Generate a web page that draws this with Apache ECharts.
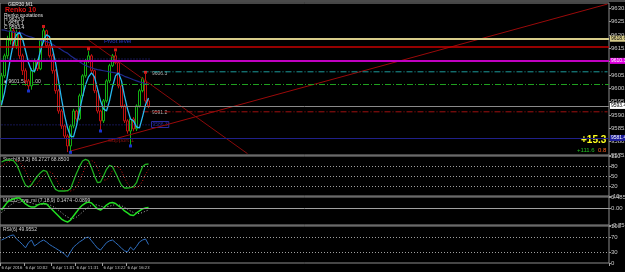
<!DOCTYPE html>
<html>
<head>
<meta charset="utf-8">
<script src="https://cdn.jsdelivr.net/npm/echarts@6/dist/echarts.min.js"></script>
<style>
  html, body { margin: 0; background: #000; }
  #chart { width: 625px; height: 272px; }
</style>
</head>
<body>
<div id="chart"></div>
<script>
// bars: [open, close, low, high]
const bars = [
  [9595.3, 9604.7, 9593.4, 9605.8], [9604.7, 9612.2, 9603.9, 9613.0], [9612.2, 9618.6, 9611.0, 9619.7],
  [9617.9, 9621.6, 9616.4, 9623.0], [9621.6, 9616.0, 9615.0, 9622.4], [9616.0, 9620.9, 9614.8, 9622.0],
  [9620.9, 9612.2, 9611.0, 9621.6], [9612.2, 9606.6, 9605.0, 9613.0], [9606.6, 9602.8, 9601.0, 9607.5],
  [9602.8, 9600.9, 9599.4, 9603.5], [9600.9, 9606.6, 9599.5, 9607.5], [9606.6, 9610.3, 9605.8, 9611.2],
  [9610.3, 9607.3, 9606.5, 9611.0], [9607.3, 9617.9, 9606.8, 9618.5], [9617.9, 9621.6, 9617.0, 9622.6],
  [9621.6, 9616.0, 9615.2, 9622.0], [9616.0, 9612.2, 9611.5, 9616.8], [9612.2, 9606.6, 9605.5, 9613.0],
  [9606.6, 9599.1, 9598.0, 9607.2], [9599.1, 9591.5, 9590.5, 9599.8], [9591.5, 9585.9, 9584.8, 9592.2],
  [9585.9, 9582.1, 9581.0, 9586.5], [9582.1, 9578.4, 9576.1, 9582.8], [9578.4, 9585.9, 9576.1, 9586.5],
  [9585.9, 9591.5, 9585.0, 9592.3], [9591.5, 9588.5, 9587.5, 9592.0], [9588.5, 9597.2, 9588.0, 9598.0],
  [9597.2, 9604.7, 9596.5, 9605.3], [9604.7, 9610.3, 9604.0, 9611.0], [9610.3, 9612.2, 9609.5, 9614.1],
  [9612.2, 9606.6, 9605.8, 9612.8], [9606.6, 9599.1, 9598.2, 9607.0], [9599.1, 9591.5, 9590.6, 9599.8],
  [9591.5, 9587.8, 9584.4, 9592.0], [9587.8, 9595.3, 9587.0, 9596.0], [9595.3, 9602.8, 9594.6, 9603.4],
  [9602.8, 9608.5, 9602.0, 9609.2], [9608.5, 9612.2, 9608.0, 9612.9], [9612.2, 9609.6, 9609.0, 9613.7],
  [9609.6, 9600.9, 9600.0, 9610.2], [9600.9, 9593.4, 9592.5, 9601.5], [9593.4, 9587.8, 9587.0, 9594.0],
  [9587.8, 9584.0, 9583.0, 9588.4], [9584.0, 9588.5, 9578.8, 9589.0], [9588.5, 9584.8, 9583.9, 9589.2],
  [9584.8, 9593.4, 9584.0, 9594.0], [9593.4, 9599.1, 9592.8, 9599.8], [9599.1, 9603.6, 9598.5, 9604.2],
  [9602.8, 9595.3, 9594.6, 9605.4], [9595.3, 9593.4, 9592.6, 9596.0]
];

const smoothLine = [
  9593.8, 9598.3, 9604.7, 9611.5, 9617.1, 9620.1, 9620.9, 9618.6, 9614.1, 9609.6,
  9606.6, 9606.4, 9609.6, 9614.1, 9617.9, 9620.1, 9619.4, 9614.8, 9609.6, 9602.8,
  9596.1, 9590.0, 9585.2, 9582.1, 9581.8, 9585.9, 9591.5, 9596.8, 9601.3, 9604.3,
  9605.8, 9604.3, 9599.8, 9595.3, 9592.3, 9591.5, 9595.3, 9600.6, 9604.7, 9605.8,
  9602.8, 9597.2, 9592.3, 9588.5, 9587.8, 9585.5, 9585.2, 9589.3, 9593.8, 9596.4
];

const slowMa = [
  9621.9, 9621.8, 9621.5, 9621.3, 9621.1, 9621.0, 9620.9, 9620.6, 9619.9, 9619.5,
  9619.2, 9618.8, 9618.4, 9618.0, 9617.7, 9617.5, 9617.1, 9616.5, 9615.8, 9615.2,
  9614.5, 9613.7, 9613.2, 9612.2, 9611.5, 9610.7, 9610.0, 9609.2, 9608.6, 9608.1,
  9607.7, 9607.3, 9607.0, 9606.8, 9606.6, 9606.4, 9606.2, 9606.0, 9605.8, 9605.5,
  9605.1, 9604.5, 9604.1, 9603.7, 9603.2, 9602.8, 9602.4, 9602.1, 9601.7, 9601.5
];

const fractalHighs = [[14, 9623.2], [29, 9614.8], [38, 9614.4], [48, 9606.0]];
const fractalLows = [[9, 9599.0], [23, 9576.0], [33, 9584.0], [43, 9578.4]];

const stochMain = [
  92, 96, 98, 98, 96, 85, 65, 42, 22, 17, 24, 38, 50, 60, 67, 64, 45, 26, 10, 5,
  5, 5, 6, 12, 35, 58, 78, 95, 100, 96, 75, 50, 30, 32, 50, 70, 82, 78, 60, 40,
  22, 14, 14, 15, 18, 30, 55, 78, 85, 86
];
const stochSignal = [
  80, 86, 92, 95, 97, 96, 92, 82, 65, 45, 28, 22, 28, 40, 52, 60, 63, 58, 45, 28,
  14, 8, 5, 5, 8, 18, 35, 57, 77, 91, 97, 91, 75, 52, 38, 38, 50, 67, 78, 77,
  65, 45, 27, 18, 15, 15, 21, 35, 55, 69
];

const macdMain = [
  -0.09, 0.09, 0.26, 0.35, 0.40, 0.44, 0.44, 0.31, 0.18, 0.09,
  0.04, 0.04, 0.13, 0.18, 0.20, 0.18, 0.04, -0.09, -0.22, -0.35,
  -0.49, -0.57, -0.62, -0.53, -0.35, -0.18, 0.00, 0.13, 0.22, 0.26,
  0.22, 0.09, -0.04, -0.09, 0.00, 0.13, 0.22, 0.24, 0.20, 0.09,
  0.00, -0.13, -0.22, -0.31, -0.33, -0.22, -0.13, -0.04, 0.00, 0.02
];
const macdSignal = [
  -0.20, -0.10, 0.02, 0.13, 0.22, 0.30, 0.35, 0.37, 0.34, 0.28,
  0.22, 0.17, 0.15, 0.15, 0.16, 0.17, 0.14, 0.08, 0.00, -0.10,
  -0.20, -0.31, -0.40, -0.46, -0.46, -0.40, -0.30, -0.18, -0.06, 0.04,
  0.12, 0.15, 0.13, 0.08, 0.05, 0.05, 0.08, 0.12, 0.15, 0.14,
  0.10, 0.03, -0.05, -0.13, -0.20, -0.24, -0.24, -0.20, -0.14, -0.09
];

const rsi = [
  62, 66, 70, 74, 76, 65, 58, 50, 41, 55, 62, 46, 52, 58, 62, 57, 50, 45, 40, 35,
  30, 24, 16, 30, 43, 50, 57, 62, 68, 70, 60, 50, 40, 35, 45, 55, 60, 62, 55, 48,
  40, 33, 30, 43, 35, 45, 57, 62, 65, 50
];

const timeLabels = ['6 Apr 2016', '6 Apr 10:02', '6 Apr 11:01', '6 Apr 11:31', '6 Apr 13:22', '6 Apr 16:23'];
const timeIdx = [0, 8, 17, 25, 34, 42];

// horizontal levels across the whole chart
const fullLevels = [9618.6, 9615.6, 9610.3, 9601.7, 9593.4, 9581.4];
// levels that start somewhere in the chart: [startIdx, price]
const cyanLevel = [47, 9606.2];
const redDashLevel = [47, 9591.2];
const pivotDots = [[0, 9611.0], [0, 9586.3]];
// trend lines: [idx, price] pairs
const supportLine = [[23, 9576.5], [202, 9631.6]];
const fallLine = [[29, 9618.1], [82, 9575.5]];

const slots = 203;
const cats = Array.from({ length: slots }, (_, i) => {
  const k = timeIdx.indexOf(i);
  return k >= 0 ? timeLabels[k] : '';
});

function slopePieces(vals, up, down, turn) {
  const out = [];
  for (let i = 0; i < vals.length - 1; i++) {
    const rising = vals[i + 1] >= vals[i];
    const prevRising = i > 0 ? vals[i] >= vals[i - 1] : rising;
    const color = turn && rising !== prevRising ? turn : (rising ? up : down);
    const p = { gte: i, color };
    if (i === vals.length - 2) p.lte = i + 1; else p.lt = i + 1;
    out.push(p);
  }
  return out;
}

const FONT = 'Liberation Sans';
const NARROW = '"Liberation Sans Narrow", "DejaVu Sans Condensed", "Liberation Sans"';
const axisTxt = { color: '#c8c8c8', fontSize: 6, fontFamily: FONT };
const levelStyles = [
  { color: '#d8cd8a', width: 2, box: '#d8cd8a', txt: '#000' },
  { color: '#c80000', width: 1.5, box: null },
  { color: '#c000c0', width: 2, box: '#e000e0', txt: '#fff' },
  { color: '#1fa01f', width: 1, type: [6, 2, 1, 2], box: null },
  { color: '#8a8a8a', width: 1, box: '#ffffff', txt: '#000' },
  { color: '#20208a', width: 1.2, box: '#1c1c9c', txt: '#fff' }
];

const chart = echarts.init(document.getElementById('chart'));

const gridBase = { left: 0, right: 16, show: true, borderColor: '#8c8c8c', borderWidth: 1, outerBoundsMode: 'none' };
const xBase = (gi) => ({
  type: 'category', gridIndex: gi, data: cats, boundaryGap: true,
  axisLine: { show: false }, axisTick: { show: false }, axisLabel: { show: false }, splitLine: { show: false }
});
const yBase = (gi) => ({
  type: 'value', gridIndex: gi, position: 'right', scale: true,
  axisLine: { show: false },
  axisTick: { show: true, length: 2, inside: false, lineStyle: { color: '#9a9a9a' } },
  axisLabel: Object.assign({ margin: 2 }, axisTxt),
  splitLine: { show: false }
});

const levelMarks = fullLevels.map((v, i) => {
  const s = levelStyles[i];
  return {
    yAxis: v,
    lineStyle: { color: s.color, width: s.width, type: s.type || 'solid' },
    label: s.box ? {
      show: true, position: 'end', distance: 1, formatter: v.toFixed(1),
      backgroundColor: s.box, color: s.txt, fontSize: 5, fontFamily: FONT, padding: [1, 1, 0, 1]
    } : { show: false }
  };
});

const lineSeries = (name, data, color, width, type, xi, yi, z) => ({
  name, type: 'line', xAxisIndex: xi, yAxisIndex: yi, data, showSymbol: false, symbol: 'none',
  lineStyle: { color, width, type: type || 'solid' }, silent: true, animation: false, z: z || 3
});

const dotted = { color: '#a0a0a0', width: 1, type: [1, 2] };
const showTime = (i) => timeIdx.includes(i);

const option = {
  backgroundColor: '#000',
  animation: false,
  grid: [
    Object.assign({ top: 3, height: 152 }, gridBase),
    Object.assign({ top: 156, height: 40 }, gridBase),
    Object.assign({ top: 197, height: 28 }, gridBase),
    Object.assign({ top: 226, height: 37 }, gridBase)
  ],
  xAxis: [
    xBase(0), xBase(1), xBase(2),
    Object.assign(xBase(3), {
      axisLine: { show: false },
      axisTick: { show: true, length: 3, interval: showTime, lineStyle: { color: '#a0a0a0' } },
      axisLabel: {
        show: true, interval: 0, align: 'left', margin: 3, hideOverlap: false,
        color: '#c8c8c8', fontSize: 4.2, fontFamily: NARROW
      }
    })
  ],
  yAxis: [
    Object.assign(yBase(0), { scale: false, min: 9575, max: 9632, interval: 5,
      axisLabel: Object.assign({ margin: 2, showMaxLabel: false, formatter: (v) => v.toFixed(1) }, axisTxt) }),
    Object.assign(yBase(1), { scale: false, min: -10, max: 110,
      axisLabel: Object.assign({ margin: 2, customValues: [-10, 20, 50, 80, 110] }, axisTxt),
      axisTick: { show: true, length: 2, customValues: [-10, 20, 50, 80, 110], lineStyle: { color: '#9a9a9a' } } }),
    Object.assign(yBase(2), { scale: false, min: -0.75, max: 0.485,
      axisLabel: Object.assign({ margin: 2, customValues: [0.485, 0, -0.75],
        formatter: (v) => (v === 0 ? '0.00' : v.toFixed(4)) }, axisTxt),
      axisTick: { show: true, length: 2, customValues: [0.485, 0, -0.75], lineStyle: { color: '#9a9a9a' } } }),
    Object.assign(yBase(3), { scale: false, min: 0, max: 100,
      axisLabel: Object.assign({ margin: 2, customValues: [0, 30, 70, 100] }, axisTxt),
      axisTick: { show: true, length: 2, customValues: [0, 30, 70, 100], lineStyle: { color: '#9a9a9a' } } })
  ],
  visualMap: [
    { show: false, type: 'piecewise', seriesIndex: 2, dimension: 0,
      pieces: slopePieces(smoothLine, '#29b8f0', '#f08a6a', '#f4f4f4') },
    { show: false, type: 'piecewise', seriesIndex: 13, dimension: 0,
      pieces: slopePieces(macdMain, '#22e022', '#ff2020', null) }
  ],
  series: [
    {
      name: 'GER30', type: 'candlestick', xAxisIndex: 0, yAxisIndex: 0, data: bars, barWidth: 2,
      itemStyle: { color: '#000', color0: '#000', borderColor: '#12b012', borderColor0: '#c01010', borderWidth: 1 },
      silent: true, z: 2,
      markLine: { silent: true, symbol: ['none', 'none'], animation: false, data: levelMarks }
    },
    lineSeries('slowMa', slowMa, '#1e2a8c', 1.2, null, 0, 0, 3),
    lineSeries('smooth', smoothLine, '#29b8f0', 1.3, null, 0, 0, 4),
    lineSeries('support', supportLine, '#9a0a0a', 1, null, 0, 0, 3),
    lineSeries('fall', fallLine, '#8a0a0a', 1, null, 0, 0, 3),
    lineSeries('cyanLevel', [cyanLevel, [slots - 1, cyanLevel[1]]], '#1c9a9a', 1, [6, 2, 1, 2], 0, 0, 3),
    lineSeries('redDash', [redDashLevel, [slots - 1, redDashLevel[1]]], '#a01010', 1, [6, 2, 1, 2], 0, 0, 3),
    lineSeries('pivot1', [pivotDots[0], [50, pivotDots[0][1]]], '#2a2aa0', 1, [1, 2], 0, 0, 3),
    lineSeries('pivot2', [pivotDots[1], [50, pivotDots[1][1]]], '#2a2aa0', 1, [1, 2], 0, 0, 3),
    { name: 'fracHi', type: 'scatter', xAxisIndex: 0, yAxisIndex: 0, data: fractalHighs,
      symbol: 'rect', symbolSize: 3, itemStyle: { color: '#ff2020' }, silent: true, z: 5 },
    { name: 'fracLo', type: 'scatter', xAxisIndex: 0, yAxisIndex: 0, data: fractalLows,
      symbol: 'rect', symbolSize: 3, itemStyle: { color: '#2040ff' }, silent: true, z: 5 },
    Object.assign(lineSeries('stoch', stochMain, '#20b020', 1.3, null, 1, 1, 4), {
      markLine: { silent: true, symbol: ['none', 'none'], label: { show: false }, lineStyle: dotted,
        data: [{ yAxis: 80 }, { yAxis: 50 }, { yAxis: 20 }] }
    }),
    lineSeries('stochSig', stochSignal, '#d01010', 1, [1, 2], 1, 1, 3),
    Object.assign(lineSeries('macd', macdMain, '#22e022', 1.5, null, 2, 2, 4), {
      markLine: { silent: true, symbol: ['none', 'none'], label: { show: false },
        lineStyle: { color: '#a0a0a0', width: 1, type: 'solid' }, data: [{ yAxis: 0 }] }
    }),
    lineSeries('macdSig', macdSignal, '#b0b0b0', 1, [1, 2], 2, 2, 3),
    Object.assign(lineSeries('rsi', rsi, '#2f6fc0', 1, null, 3, 3, 4), {
      markLine: { silent: true, symbol: ['none', 'none'], label: { show: false }, lineStyle: dotted,
        data: [{ yAxis: 70 }, { yAxis: 30 }] }
    })
  ],
  graphic: [
    { type: 'rect', left: 0, top: 0, shape: { width: 625, height: 2 }, style: { fill: '#4a4a4a' } },
    { type: 'text', left: 8, top: 2, style: { text: 'GER30,M1', fill: '#e8e8e8', font: '5px ' + FONT } },
    { type: 'text', left: 5, top: 7, style: { text: 'Renko 10', fill: '#e01010', font: 'bold 7px ' + FONT } },
    { type: 'text', left: 4, top: 13, style: { text: 'Renko quotations', fill: '#e0e0e0', font: '5px ' + FONT } },
    { type: 'text', left: 4, top: 17, style: { text: 'H 9623.0', fill: '#e0e0e0', font: '5px ' + FONT } },
    { type: 'text', left: 4, top: 21, style: { text: 'L 9576.1', fill: '#e0e0e0', font: '5px ' + FONT } },
    { type: 'text', left: 4, top: 25, style: { text: 'C 9593.4', fill: '#e0e0e0', font: '5px ' + FONT } },
    { type: 'text', left: 104, top: 38, style: { text: 'Pivot level', fill: '#2838c8', font: '6px ' + FONT } },
    { type: 'text', left: 108, top: 137, style: { text: 'Support 1', fill: '#8a1010', font: '6px ' + FONT } },
    { type: 'text', left: 4, top: 79, style: { text: '\u25a0 9601.58 \u25aa 1.00', fill: '#d0d0d0', font: '5px ' + FONT } },
    { type: 'text', left: 152, top: 71, style: { text: '9606.3', fill: '#b0b0b0', font: '5px ' + FONT } },
    { type: 'text', left: 152, top: 110, style: { text: '9591.2', fill: '#b0b0b0', font: '5px ' + FONT } },
    { type: 'text', left: 151, top: 121, style: { text: '9586.3', fill: '#2a2aa0', font: '5px ' + FONT,
      borderColor: '#2a2aa0', borderWidth: 1, padding: [1, 1, 0, 1] } },
    { type: 'text', left: 581, top: 135, style: { text: '+15.3', fill: '#ffff20', font: 'bold 10px ' + FONT } },
    { type: 'text', left: 577, top: 147, style: { text: '+111.6', fill: '#22c022', font: '6px ' + FONT } },
    { type: 'text', left: 598, top: 147, style: { text: '0.8', fill: '#ff6020', font: '6px ' + FONT } },
    { type: 'text', left: 3, top: 157, style: { text: 'Stoch(8,3,3) 86.2727 68.8500', fill: '#d0d0d0', font: '5px ' + FONT } },
    { type: 'text', left: 3, top: 198, style: { text: 'MACD_avg_rsi (7,18,9) 0.1474 -0.0899', fill: '#d0d0d0', font: '5px ' + FONT } },
    { type: 'text', left: 3, top: 227, style: { text: 'RSI(6) 49.9552', fill: '#d0d0d0', font: '5px ' + FONT } }
  ]
};

chart.setOption(option);
</script>
</body>
</html>
